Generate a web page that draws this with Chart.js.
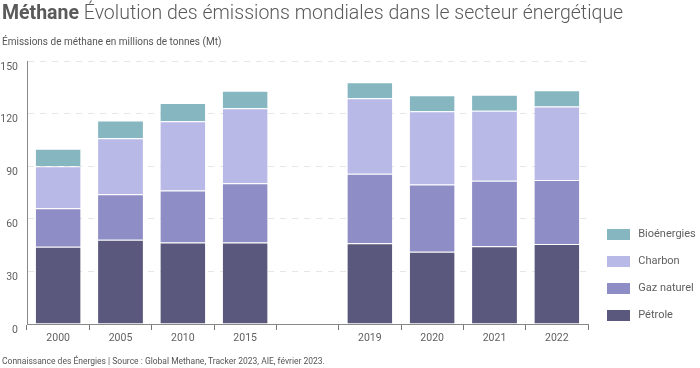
<!DOCTYPE html>
<html>
<head>
<meta charset="utf-8">
<script src="https://cdn.jsdelivr.net/npm/chart.js@4.4.1/dist/chart.umd.min.js"></script>
<style>
  html, body { margin: 0; padding: 0; background: #fff; }
  body { width: 700px; height: 368px; position: relative; overflow: hidden; font-family: Roboto, "Noto Sans", sans-serif; }
  #title { position: absolute; left: 2px; top: 1px; font-size: 19.5px; color: #5a5a5a; font-weight: 300; white-space: nowrap; }
  #title b { font-weight: 700; color: #5a5a5a; }
  #subtitle { position: absolute; left: 2px; top: 36px; font-size: 10px; color: #555; white-space: nowrap; }
  #footer { position: absolute; left: 2px; top: 356px; font-size: 8.5px; color: #555; white-space: nowrap; }
  #wrap { position: absolute; left: 0; top: 0; width: 700px; height: 368px; }
</style>
</head>
<body>
<div id="wrap"><canvas id="c" width="700" height="368"></canvas></div>
<div id="title"><b>Méthane</b> Évolution des émissions mondiales dans le secteur énergétique</div>
<div id="subtitle">Émissions de méthane en millions de tonnes (Mt)</div>
<div id="footer">Connaissance des Énergies | Source : Global Methane, Tracker 2023, AIE, février 2023.</div>
<script>
const categories = ["2000", "2005", "2010", "2015", "", "2019", "2020", "2021", "2022"];
const petrole    = [44,   48,   46.5, 46.5, null, 46,   41.2, 44.4, 45.6];
const gazNaturel = [22,   26,   29.7, 33.8, null, 39.7, 38.4, 37.3, 36.6];
const charbon    = [24,   32,   39.5, 42.8, null, 43.1, 41.8, 39.9, 41.8];
const bioenergies= [10,   10,   10.4, 10,   null, 9.1,  9,    9.2,  9.3];
const yTicks = [0, 30, 60, 90, 120, 150];

const textColor = '#5f5f5f';
const ds = (label, data, color) => ({
  label, data, backgroundColor: color,
  borderColor: 'rgba(255,255,255,0.45)', borderWidth: {top: 1, left: 0, right: 0, bottom: 0},
  borderSkipped: false,
  barPercentage: 0.72, categoryPercentage: 1.0, stack: 's'
});

new Chart(document.getElementById('c'), {
  type: 'bar',
  data: {
    labels: categories,
    datasets: [
      ds('Pétrole', petrole, '#5b587d'),
      ds('Gaz naturel', gazNaturel, '#8f8dc6'),
      ds('Charbon', charbon, '#b9b9e8'),
      ds('Bioénergies', bioenergies, '#86b7c1')
    ]
  },
  options: {
    responsive: false,
    animation: false,
    devicePixelRatio: 1,
    layout: { padding: { top: 61, left: 0, right: 0, bottom: 20 } },
    plugins: {
      tooltip: { enabled: false },
      legend: {
        position: 'right',
        align: 'end',
        reverse: true,
        maxWidth: 112,
        labels: {
          boxWidth: 23, boxHeight: 11, padding: 16,
          color: textColor,
          font: { family: 'Roboto', size: 11 },
          generateLabels: chart => Chart.defaults.plugins.legend.labels.generateLabels(chart)
            .map(it => Object.assign(it, { text: ' ' + it.text, lineWidth: 0 }))
        }
      }
    },
    scales: {
      x: {
        stacked: true,
        grid: { display: true, drawOnChartArea: false, offset: true, tickLength: 6, color: '#777' },
        border: { display: true, color: '#888', width: 1 },
        ticks: { color: textColor, font: { family: 'Roboto', size: 10.5 }, padding: 2, maxRotation: 0 },
        afterFit: s => { s.height = 24; }
      },
      y: {
        stacked: true,
        min: 0, max: 150,
        afterBuildTicks: s => { s.ticks = yTicks.map(v => ({ value: v })); },
        grid: { color: '#e6e6e6', drawTicks: false },
        border: { display: true, color: '#888', width: 1, dash: [6, 6] },
        ticks: { color: textColor, font: { family: 'Roboto', size: 10.5 }, padding: 9, labelOffset: 6 },
        afterFit: s => { s.width = 27; }
      }
    }
  },
  plugins: [{
    id: 'legendShift',
    afterLayout(chart) {
      const l = chart.legend;
      if (!l) return;
      const dx = chart.chartArea.right + 19 - (l.left + 16);
      l.left += dx; l.right += dx;
      l.top -= 11; l.bottom -= 11;
    }
  }]
});
</script>
</body>
</html>
